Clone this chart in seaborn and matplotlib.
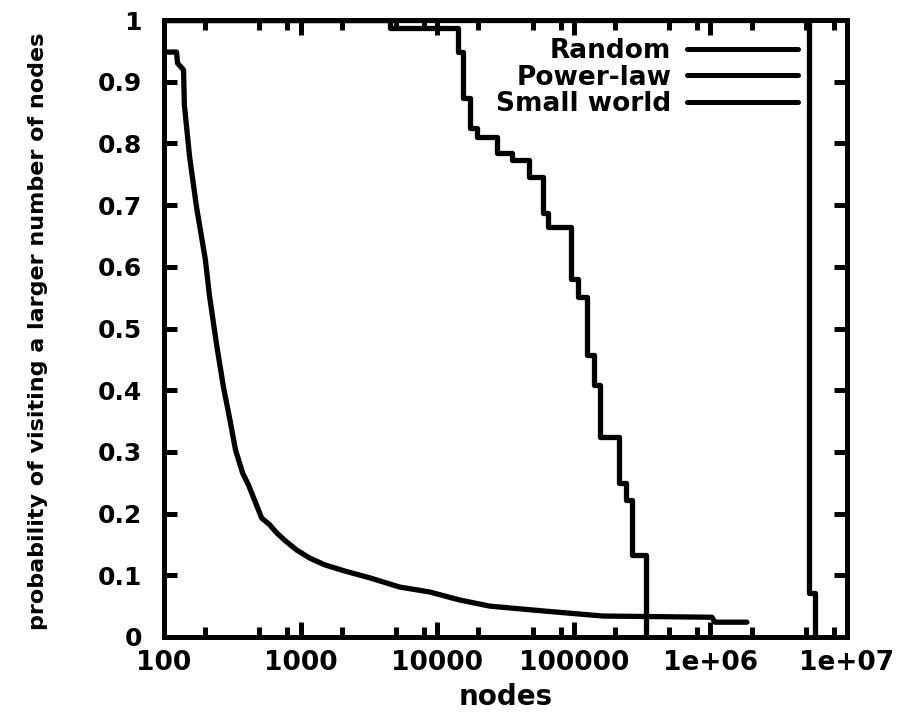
import numpy as np
import pandas as pd
import matplotlib
matplotlib.use("Agg")
import matplotlib.pyplot as plt
import seaborn as sns
from matplotlib.ticker import FixedLocator, FixedFormatter, LogLocator, NullFormatter

# ---- data ----
random_nodes = [100, 5.27e6, 5.83e6]
random_prob = [1.0, 0.071, 0.0]

power_nodes = [100, 4500, 14100, 15380, 17300, 19460, 27300, 35150, 46800, 59300,
               64500, 95100, 107000, 124500, 140300, 155000, 213800, 240500,
               266000, 336700]
power_prob = [1.0, 0.987, 0.948, 0.874, 0.825, 0.810, 0.784, 0.773, 0.746, 0.687,
              0.665, 0.580, 0.551, 0.457, 0.408, 0.324, 0.250, 0.222, 0.133, 0.0]

small_nodes = [100, 123.5, 125.6, 139, 141, 154, 173, 201, 215, 243, 273, 302, 334,
               376, 416, 460, 518, 593, 667, 763, 935, 1164, 1500, 2100, 3200, 5300,
               8800, 14600, 24300, 61400, 163000, 1.025e6, 1.08e6, 1.85e6]
small_prob = [0.948, 0.948, 0.930, 0.919, 0.862, 0.778, 0.697, 0.611, 0.554, 0.473,
              0.404, 0.355, 0.303, 0.266, 0.246, 0.222, 0.193, 0.182, 0.169, 0.157,
              0.141, 0.128, 0.117, 0.107, 0.096, 0.081, 0.073, 0.060, 0.050, 0.042,
              0.034, 0.032, 0.024, 0.024]

x_ticks = [1e2, 1e3, 1e4, 1e5, 1e6, 1e7]
x_tick_labels = ["100", "1000", "10000", "100000", "1e+06", "1e+07"]
y_ticks = [0.0, 0.1, 0.2, 0.3, 0.4, 0.5, 0.6, 0.7, 0.8, 0.9, 1.0]
y_tick_labels = ["0", "0.1", "0.2", "0.3", "0.4", "0.5", "0.6", "0.7", "0.8", "0.9", "1"]

series_names = ["Random", "Power-law", "Small world"]

# ---- style ----
sns.set_style("white")
plt.rcParams["font.family"] = ["DejaVu Sans"]
plt.rcParams["font.weight"] = "bold"
plt.rcParams["text.color"] = "black"
plt.rcParams["axes.labelcolor"] = "black"
plt.rcParams["xtick.color"] = "black"
plt.rcParams["ytick.color"] = "black"

fig = plt.figure(figsize=(9.07, 7.18), dpi=100)
ax = fig.add_axes([164 / 907, 1 - 637 / 718, (847 - 164) / 907, (637 - 20) / 718])

lw = 3.8
sns.lineplot(x=random_nodes, y=random_prob, ax=ax, color="black", lw=lw,
             drawstyle="steps-post", estimator=None, sort=False, label=series_names[0])
sns.lineplot(x=power_nodes, y=power_prob, ax=ax, color="black", lw=lw,
             drawstyle="steps-post", estimator=None, sort=False, label=series_names[1])
sns.lineplot(x=small_nodes, y=small_prob, ax=ax, color="black", lw=lw,
             estimator=None, sort=False, label=series_names[2])

ax.set_xscale("log")
ax.set_xlim(1e2, 1e7)
ax.set_ylim(0, 1)

ax.xaxis.set_major_locator(FixedLocator(x_ticks))
ax.xaxis.set_major_formatter(FixedFormatter(x_tick_labels))
ax.xaxis.set_minor_locator(LogLocator(base=10, subs=(2.0, 5.0, 8.0)))
ax.xaxis.set_minor_formatter(NullFormatter())
ax.yaxis.set_major_locator(FixedLocator(y_ticks))
ax.yaxis.set_major_formatter(FixedFormatter(y_tick_labels))

for s in ax.spines.values():
    s.set_linewidth(3.6)
    s.set_color("black")
    s.set_visible(True)

ax.tick_params(axis="x", which="major", direction="in", top=True, bottom=True,
               length=10.8, width=3.6, pad=9, labelsize=19, colors="black")
ax.tick_params(axis="x", which="minor", direction="in", top=True, bottom=True,
               length=7.2, width=3.6)
ax.tick_params(axis="y", which="major", direction="in", left=True, right=True,
               length=9.4, width=3.6, pad=16, labelsize=18, colors="black")
for t in ax.get_xticklabels() + ax.get_yticklabels():
    t.set_fontweight("bold")
    t.set_color("black")

ax.set_xlabel("nodes", fontsize=20, fontweight="bold", color="black")
ax.xaxis.set_label_coords(0.5, -0.075)
ax.set_ylabel("probability of visiting a larger number of nodes", fontsize=16,
              fontweight="bold", color="black")
ax.yaxis.set_label_coords(-0.17, 0.495)

leg = ax.legend(loc="upper right", bbox_to_anchor=((798 - 164) / 683, (637 - 38) / 617),
                frameon=False, markerfirst=False, handlelength=4.2,
                handletextpad=0.6, labelspacing=0.02, borderpad=0, borderaxespad=0,
                prop={"weight": "bold", "size": 19})
for line in leg.get_lines():
    line.set_linewidth(3.6)
for t in leg.get_texts():
    t.set_color("black")

fig.savefig("out.png", dpi=100, facecolor="white")
